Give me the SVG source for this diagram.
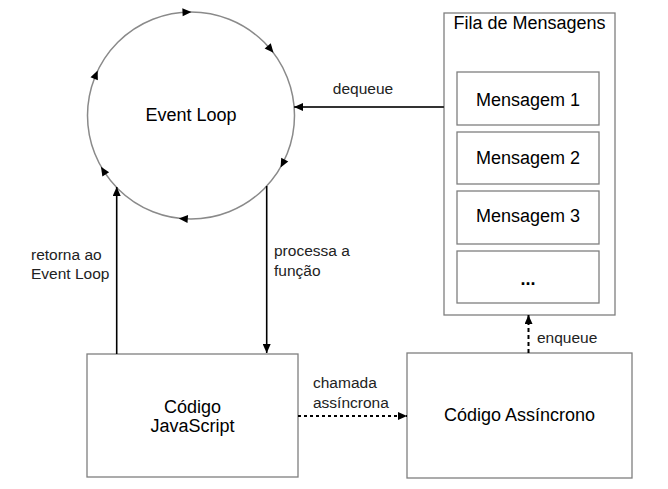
<svg xmlns="http://www.w3.org/2000/svg" width="668" height="489" viewBox="0 0 668 489">
  <style>
    text { font-family: "Liberation Sans", Arial, sans-serif; fill: #000; }
    .big { font-size: 18px; }
    .small { font-size: 15.5px; fill: #222; }
    .box { fill: #fff; stroke: #7f7f7f; stroke-width: 1.3; }
    .conn { fill: none; stroke: #000; stroke-width: 1.6; }
    .dash { fill: none; stroke: #000; stroke-width: 2; stroke-dasharray: 3 3; }
    .dash2 { fill: none; stroke: #000; stroke-width: 2; stroke-dasharray: 4 3; }
  </style>
  <defs>
    <marker id="arr" viewBox="0 0 9 8" refX="9" refY="4" markerWidth="9" markerHeight="8" markerUnits="userSpaceOnUse" orient="auto">
      <path d="M0,0 L9,4 L0,8 Z" fill="#000"/>
    </marker>
    <path id="tri" d="M5,0 L-4,-4 L-4,4 Z" fill="#000"/>
  </defs>
  <rect width="668" height="489" fill="#fff"/>

  <g id="event-loop">
    <circle cx="191" cy="115.5" r="103.5" fill="#fff" stroke="#8a8a8a" stroke-width="1.5"/>
    <g transform="translate(191,115.5)">
      <use href="#tri" transform="rotate(-92.5) translate(103.5,0) rotate(90)"/>
      <use href="#tri" transform="rotate(-40) translate(103.5,0) rotate(90)"/>
      <use href="#tri" transform="rotate(27.4) translate(103.5,0) rotate(90)"/>
      <use href="#tri" transform="rotate(94) translate(103.5,0) rotate(90)"/>
      <use href="#tri" transform="rotate(147.6) translate(103.5,0) rotate(90)"/>
      <use href="#tri" transform="rotate(203) translate(103.5,0) rotate(90)"/>
    </g>
    <text class="big" x="191" y="121" text-anchor="middle">Event Loop</text>
  </g>

  <g id="fila">
    <rect class="box" x="444" y="13" width="171" height="302"/>
    <text class="big" x="529.5" y="29" text-anchor="middle">Fila de Mensagens</text>
  </g>
  <g id="msg1">
    <rect class="box" x="457" y="72" width="142" height="53"/>
    <text class="big" x="528" y="106" text-anchor="middle">Mensagem 1</text>
  </g>
  <g id="msg2">
    <rect class="box" x="457" y="132" width="142" height="52"/>
    <text class="big" x="528" y="163.5" text-anchor="middle">Mensagem 2</text>
  </g>
  <g id="msg3">
    <rect class="box" x="457" y="191" width="142" height="53"/>
    <text class="big" x="528" y="222" text-anchor="middle">Mensagem 3</text>
  </g>
  <g id="msg-more">
    <rect class="box" x="457" y="251" width="142" height="52"/>
    <text class="big" x="528" y="285" text-anchor="middle" font-weight="bold">...</text>
  </g>

  <g id="js">
    <rect class="box" x="87" y="354" width="211" height="123"/>
    <text class="big" x="192.5" y="412.5" text-anchor="middle">Código</text>
    <text class="big" x="192.5" y="432" text-anchor="middle">JavaScript</text>
  </g>
  <g id="async">
    <rect class="box" x="407" y="353" width="225" height="125"/>
    <text class="big" x="519.5" y="421" text-anchor="middle">Código Assíncrono</text>
  </g>

  <g id="connectors">
    <line x1="444" y1="107" x2="294" y2="107" stroke="#333" stroke-width="2" marker-end="url(#arr)"/>
    <line class="conn" x1="116.7" y1="354" x2="116.7" y2="187" marker-end="url(#arr)"/>
    <line class="conn" x1="266.7" y1="186" x2="266.7" y2="353" marker-end="url(#arr)"/>
    <line class="dash" x1="298" y1="416" x2="407" y2="416" marker-end="url(#arr)"/>
    <line class="dash2" x1="528.5" y1="353" x2="528.5" y2="315" marker-end="url(#arr)"/>
    <text class="small" x="363" y="94" text-anchor="middle">dequeue</text>
    <text class="small" x="31" y="259.5">retorna ao</text>
    <text class="small" x="31" y="279">Event Loop</text>
    <text class="small" x="274" y="256">processa a</text>
    <text class="small" x="274" y="276">função</text>
    <text class="small" x="313" y="388">chamada</text>
    <text class="small" x="313" y="407.5">assíncrona</text>
    <text class="small" x="537" y="343">enqueue</text>
  </g>
</svg>
